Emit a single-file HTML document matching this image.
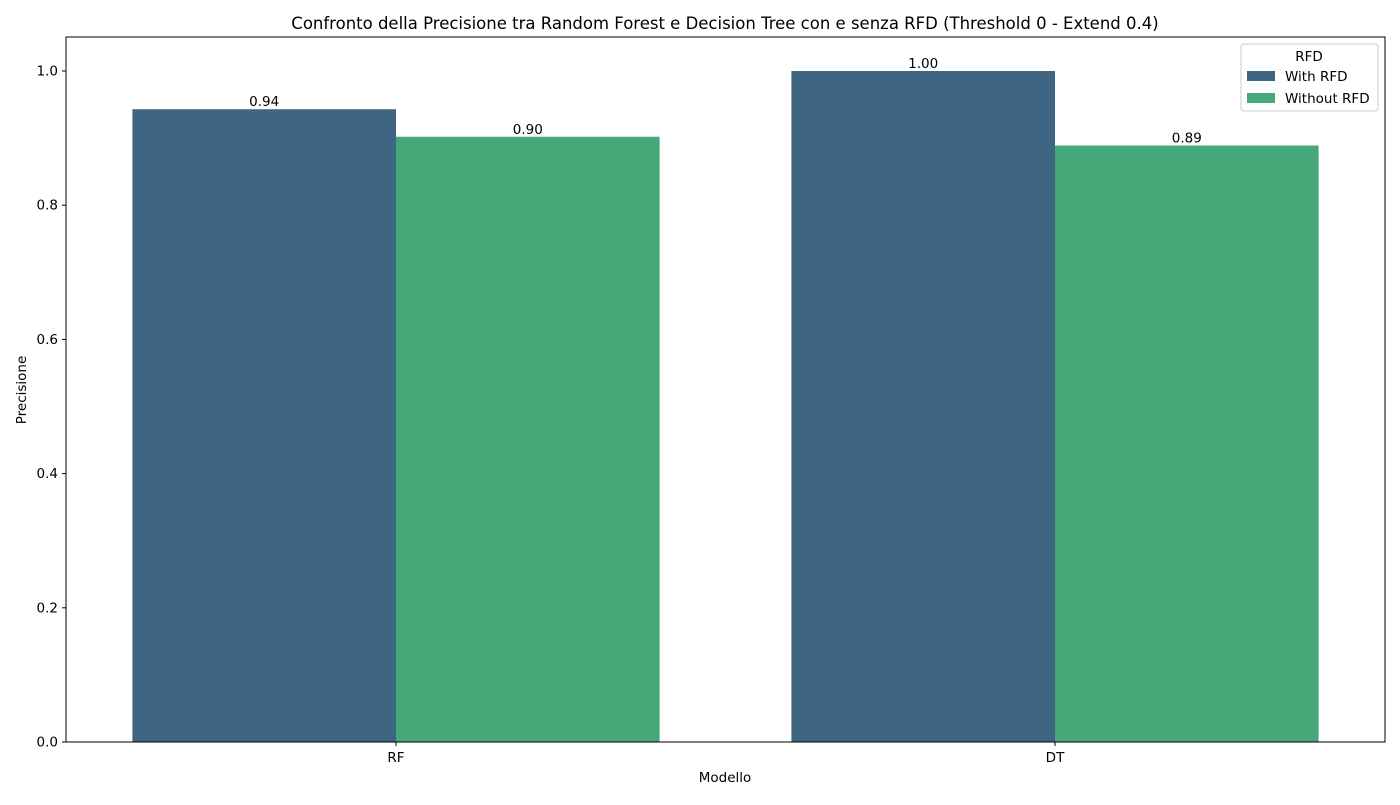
<!DOCTYPE html>
<html><head><meta charset="utf-8"><style>
body{margin:0;background:#fff;}
svg{font-family:"DejaVu Sans","Liberation Sans",sans-serif;}
</style></head><body>
<svg id="chart" width="1400" height="800">
<text x="725" y="29" text-anchor="middle" font-size="16.5">Confronto della Precisione tra Random Forest e Decision Tree con e senza RFD (Threshold 0 - Extend 0.4)</text>
<g id="plot"></g>
<rect x="66" y="37" width="1319" height="705" fill="none" stroke="#000" stroke-width="1"/>
<text x="725" y="782" text-anchor="middle" font-size="13.5">Modello</text>
<text x="0" y="0" transform="translate(26,390) rotate(-90)" text-anchor="middle" font-size="13.5">Precisione</text>
<g>
<rect x="1241" y="44" width="137" height="67" rx="3" fill="#fff" stroke="#ccc"/>
<text x="1309" y="61" text-anchor="middle" font-size="13.5">RFD</text>
<rect x="1247" y="71" width="28" height="10" fill="#3e6582"/>
<text x="1285" y="81" font-size="13.5">With RFD</text>
<rect x="1247" y="93" width="28" height="10" fill="#46a878"/>
<text x="1285" y="103" font-size="13.5">Without RFD</text>
</g>
</svg>
<script>
const categories=["RF","DT"];
const withRFD=[0.943,1.0];
const withoutRFD=[0.902,0.889];
const yTicks=[0,0.2,0.4,0.6,0.8,1.0];
const ns="http://www.w3.org/2000/svg";
const g=document.getElementById("plot");
const y=v=>742-v*671;
const x=i=>396+i*659;
const bw=0.4*659;
function el(t,a){const e=document.createElementNS(ns,t);for(const k in a)e.setAttribute(k,a[k]);g.appendChild(e);return e;}
yTicks.forEach(t=>{
 const l=el("line",{x1:62,x2:66,y1:y(t),y2:y(t),stroke:"#000"});
 
 
 const tx=el("text",{x:58,y:y(t)+4.5,"text-anchor":"end","font-size":13.5});
 tx.textContent=t.toFixed(1);
 
 
});
categories.forEach((c,i)=>{
 const l=el("line",{x1:x(i),x2:x(i),y1:742,y2:746,stroke:"#000"});
 
 
 const tx=el("text",{x:x(i),y:762,"text-anchor":"middle","font-size":13.5});
 tx.textContent=c;
 
 
 [[withRFD,"#3e6582",-bw,"with"],[withoutRFD,"#46a878",0,"without"]].forEach(([arr,col,off,nm])=>{
  const v=arr[i];
  const r=el("rect",{x:x(i)+off,y:y(v),width:bw,height:742-y(v),fill:col});
  
  
  const lb=el("text",{x:x(i)+off+bw/2,y:y(v)-3,"text-anchor":"middle","font-size":13.5});
  lb.textContent=v.toFixed(2);
  
  
 });
});
</script>
</body></html>
